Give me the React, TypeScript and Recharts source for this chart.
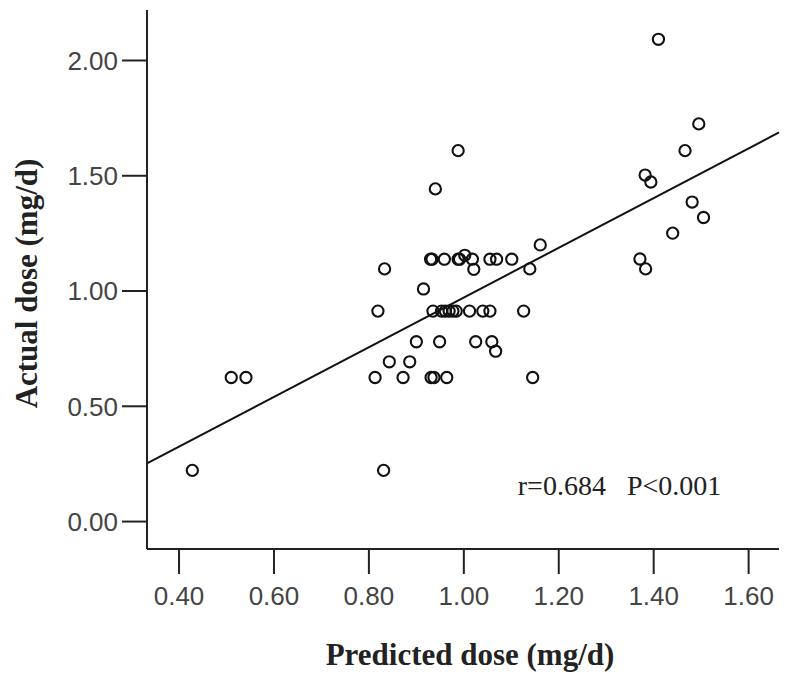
import React from "react";
import {
  ScatterChart,
  Scatter,
  XAxis,
  YAxis,
  ReferenceLine,
  ReferenceDot,
  Label,
} from "recharts";

// Predicted dose (x) and actual dose (y), mg/d
const predictedDose: number[] = [
  1.410, 1.495, 0.988, 1.466, 0.940, 1.382, 1.394, 1.481, 1.505, 1.440,
  1.161, 1.371, 1.383, 1.139, 0.833,
  0.930, 0.933, 0.959, 0.988, 0.991, 1.002, 1.018, 1.055, 1.069, 1.101,
  1.021, 0.915,
  0.819, 0.935, 0.953, 0.961, 0.969, 0.977, 0.984, 1.012, 1.040, 1.055, 1.126,
  0.900, 0.949, 1.025, 1.059,
  1.067,
  0.843, 0.886,
  0.510, 0.541, 0.813, 0.872, 0.931, 0.937, 0.964, 1.145,
  0.428, 0.831,
];
const actualDose: number[] = [
  2.092, 1.725, 1.609, 1.609, 1.443, 1.503, 1.473, 1.386, 1.319, 1.251,
  1.200, 1.139, 1.096, 1.096, 1.096,
  1.138, 1.138, 1.138, 1.138, 1.138, 1.155, 1.138, 1.138, 1.138, 1.138,
  1.094, 1.009,
  0.913, 0.913, 0.913, 0.913, 0.913, 0.913, 0.913, 0.913, 0.913, 0.913, 0.913,
  0.780, 0.780, 0.780, 0.780,
  0.739,
  0.693, 0.693,
  0.625, 0.625, 0.625, 0.625, 0.625, 0.625, 0.625, 0.625,
  0.222, 0.222,
];

const xTicks: number[] = [0.4, 0.6, 0.8, 1.0, 1.2, 1.4, 1.6];
const yTicks: number[] = [0.0, 0.5, 1.0, 1.5, 2.0];
const xDomain: number[] = [0.3325, 1.664];
const yDomain: number[] = [-0.119, 2.219];

// fitted line end points [x, y]
const fitStart: number[] = [0.3325, 0.252];
const fitEnd: number[] = [1.664, 1.688];

const annotationText = "r=0.684\u00A0\u00A0\u00A0P<0.001";
const annotationPos: number[] = [1.328, 0.159];

const xTitle = "Predicted dose (mg/d)";
const yTitle = "Actual dose (mg/d)";

const data = predictedDose.map((x, i) => ({ x, y: actualDose[i] }));

const AXIS_COLOR = "#222";
const TICK_FONT = "'Liberation Sans', Arial, sans-serif";
const SERIF = "'Liberation Serif', 'Times New Roman', serif";

const RingShape = (props: any) => {
  const { cx, cy } = props;
  if (cx == null || cy == null) return null;
  return (
    <circle cx={cx} cy={cy} r={5.6} fill="none" stroke="#111" strokeWidth={2.1} />
  );
};

export default function App() {
  return (
    <div style={{ position: "absolute", left: 0, top: 0, width: 787, height: 677, background: "#fff" }}>
      <ScatterChart
        width={787}
        height={677}
        margin={{ top: 10, right: 8, bottom: 0, left: 0 }}
      >
        <XAxis
          type="number"
          dataKey="x"
          domain={xDomain}
          allowDataOverflow
          ticks={xTicks}
          tickFormatter={(v: number) => v.toFixed(2)}
          height={128}
          tickSize={25}
          tickMargin={13}
          axisLine={{ stroke: AXIS_COLOR, strokeWidth: 2 }}
          tickLine={{ stroke: AXIS_COLOR, strokeWidth: 2 }}
          tick={{ fill: "#444", fontSize: 26, fontFamily: TICK_FONT }}
          interval={0}
        >
          <Label
            content={(p: any) => {
              const vb = p.viewBox || {};
              return (
                <text
                  x={vb.x + vb.width / 2 + 7}
                  y={vb.y + 116}
                  textAnchor="middle"
                  fontFamily={SERIF}
                  fontWeight="bold"
                  fontSize={31}
                  fill="#222"
                >
                  {xTitle}
                </text>
              );
            }}
          />
        </XAxis>
        <YAxis
          type="number"
          dataKey="y"
          domain={yDomain}
          allowDataOverflow
          ticks={yTicks}
          tickFormatter={(v: number) => v.toFixed(2)}
          width={147}
          tickSize={25}
          tickMargin={4}
          axisLine={{ stroke: AXIS_COLOR, strokeWidth: 2 }}
          tickLine={{ stroke: AXIS_COLOR, strokeWidth: 2 }}
          tick={{ fill: "#444", fontSize: 26, fontFamily: TICK_FONT }}
          interval={0}
        >
          <Label
            content={(p: any) => {
              const vb = p.viewBox || {};
              const cx = 37;
              const cy = vb.y + vb.height / 2 + 4;
              return (
                <text
                  x={cx}
                  y={cy}
                  textAnchor="middle"
                  transform={`rotate(-90 ${cx} ${cy})`}
                  fontFamily={SERIF}
                  fontWeight="bold"
                  fontSize={31}
                  fill="#222"
                >
                  {yTitle}
                </text>
              );
            }}
          />
        </YAxis>
        <ReferenceLine
          segment={[
            { x: fitStart[0], y: fitStart[1] },
            { x: fitEnd[0], y: fitEnd[1] },
          ]}
          stroke="#111"
          strokeWidth={2}
          ifOverflow="visible"
        />
        <Scatter data={data} shape={RingShape} isAnimationActive={false} />
        <ReferenceDot
          x={annotationPos[0]}
          y={annotationPos[1]}
          r={0}
          fill="none"
          stroke="none"
          ifOverflow="visible"
          label={{
            value: annotationText,
            position: "center",
            fontFamily: SERIF,
            fontSize: 28,
            fill: "#222",
          }}
        />
      </ScatterChart>
    </div>
  );
}
